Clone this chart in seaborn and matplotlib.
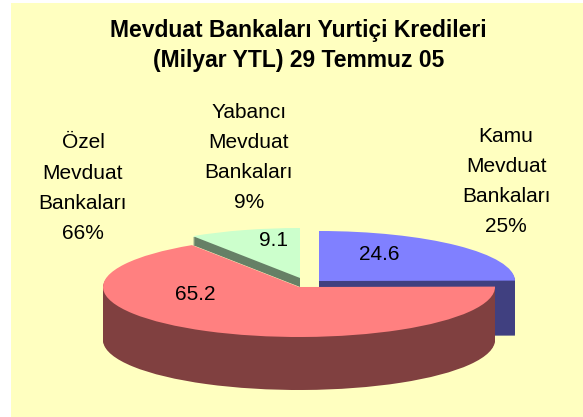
import matplotlib
matplotlib.use("Agg")
import matplotlib.pyplot as plt
import seaborn as sns

sns.set_theme(style="white")
plt.rcParams['font.family'] = ['Liberation Sans', 'DejaVu Sans']

categories = ["Kamu Mevduat Bankaları", "Özel Mevduat Bankaları", "Yabancı Mevduat Bankaları"]
values = [24.6, 65.2, 9.1]
percent_labels = ["25%", "66%", "9%"]
value_labels = ["24.6", "65.2", "9.1"]
face_colors = ["#8080FF", "#FF8080", "#CCFFCC"]
side_colors = ["#404080", "#804040", "#668066"]
background = "#FFFFC0"
title_lines = ["Mevduat Bankaları Yurtiçi Kredileri", "(Milyar YTL) 29 Temmuz 05"]

W, H = 583, 417
fig = plt.figure(figsize=(W / 100, H / 100), dpi=100, facecolor="white")

bg = fig.add_axes([11 / W, 0, (W - 11) / W, (H - 3) / H], facecolor=background)
bg.set_xticks([]); bg.set_yticks([])
for s in bg.spines.values():
    s.set_visible(False)

ax = fig.add_axes([0, 0, 1, 1])
ax.patch.set_alpha(0)

RX, RY = 196, 50
squash = RY / RX


def draw_slice(i, cx, py, depth, side, face):
    """Extruded pie slice: side layers, then the top face, through ax.pie."""
    for k in list(range(depth, 0, -1)) + [0]:
        wedges, _ = ax.pie(values, startangle=90, counterclock=False, radius=RX,
                           center=(cx, (H - py - k) / squash),
                           colors=[side if k else face] * len(values),
                           wedgeprops=dict(linewidth=0), frame=True)
        for j, w in enumerate(wedges):
            w.set_visible(j == i)


draw_slice(2, 300, 278, 9, side_colors[2], face_colors[2])
draw_slice(0, 319, 281, 55, side_colors[0], face_colors[0])
draw_slice(1, 299, 287, 53, side_colors[1], face_colors[1])

ax.set_aspect("auto")
ax.set_xlim(0, W)
ax.set_ylim(0, H / squash)
ax.set_xticks([]); ax.set_yticks([])
for s in ax.spines.values():
    s.set_visible(False)


def put(x, y, text, **kw):
    fig.text(x / W, 1 - y / H, text, ha="center", va="center", color="black", **kw)


for y, line in zip((31, 60), title_lines):
    put(298.5, y, line, fontsize=16.5, fontweight="bold")

wrapped = [["Kamu", "Mevduat", "Bankaları"], ["Özel", "Mevduat", "Bankaları"], ["Yabancı", "Mevduat", "Bankaları"]]
anchors = [(506, 136), (83, 143), (249, 112)]
for lines, pct, (x, y0) in zip(wrapped, percent_labels, anchors):
    for n, line in enumerate(lines + [pct]):
        put(x, y0 + n * 30.2, line, fontsize=15)

for txt, (x, y) in zip(value_labels, [(379, 254), (195, 294), (273, 240)]):
    put(x, y, txt, fontsize=15)

fig.savefig("out.png", dpi=100, facecolor="white")
